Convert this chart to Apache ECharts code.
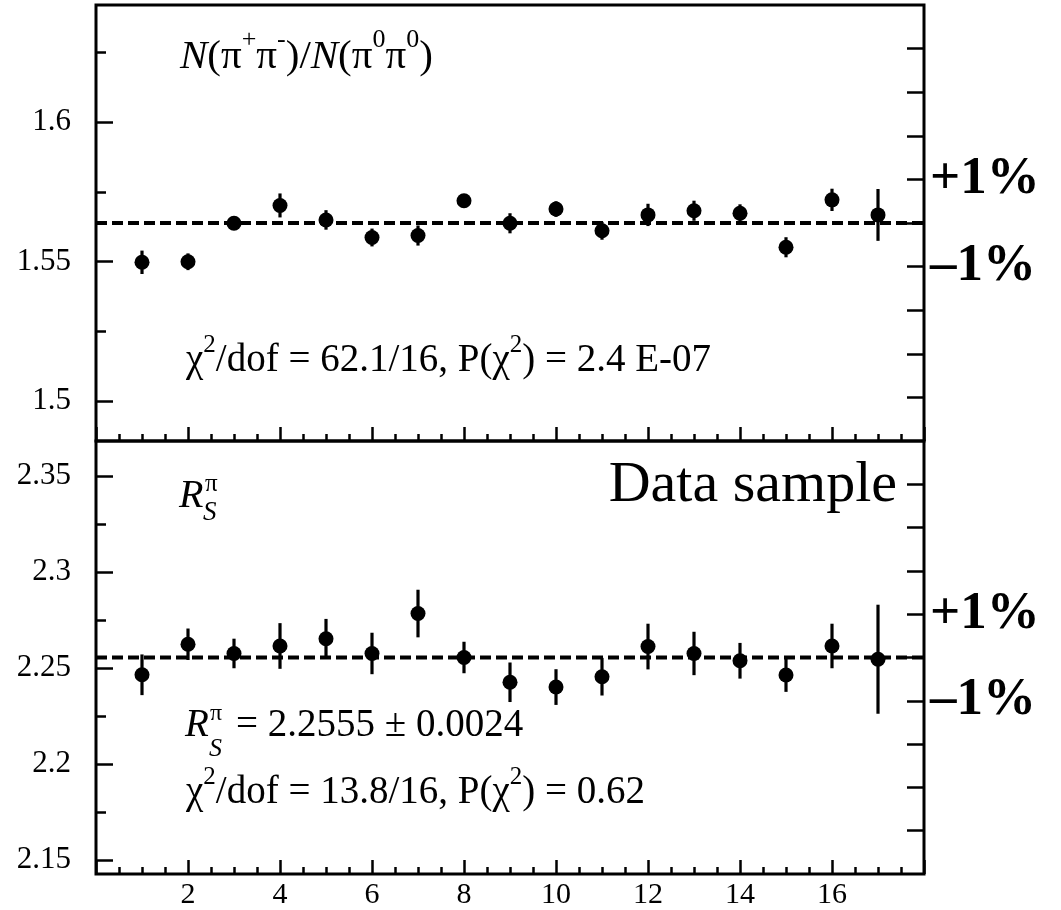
<!DOCTYPE html>
<html>
<head>
<meta charset="utf-8">
<script src="https://cdn.jsdelivr.net/npm/echarts@6/dist/echarts.min.js"></script>
<style>
  html, body { margin: 0; padding: 0; background: #fff; }
  #chart { width: 1061px; height: 910px; }
</style>
</head>
<body>
<div id="chart"></div>
<script>
// ---------------- data ----------------
const samples = [1, 2, 3, 4, 5, 6, 7, 8, 9, 10, 11, 12, 13, 14, 15, 16, 17];

// top panel: N(pi+pi-)/N(pi0pi0)
const ratioVals = [1.5497, 1.5499, 1.5637, 1.5701, 1.5649, 1.5586, 1.5593, 1.5718, 1.5637,
                   1.5688, 1.5610, 1.5667, 1.5682, 1.5673, 1.5551, 1.5721, 1.5667];
const ratioErrs = [0.0042, 0.0030, 0.0020, 0.0043, 0.0035, 0.0032, 0.0036, 0.0020, 0.0036,
                   0.0028, 0.0032, 0.0040, 0.0036, 0.0032, 0.0036, 0.0040, 0.0093];
const ratioMean = 1.5638;
const ratioMajorTicks = [1.5, 1.55, 1.6];
const ratioMinorTicks = [1.525, 1.575, 1.625];

// bottom panel: R_S^pi
const rsVals = [2.2465, 2.2624, 2.2576, 2.2615, 2.2653, 2.2576, 2.2784, 2.2555, 2.2426,
                2.2401, 2.2455, 2.2612, 2.2576, 2.2538, 2.2464, 2.2615, 2.2546];
const rsErrs = [0.0106, 0.0082, 0.0077, 0.0119, 0.0103, 0.0108, 0.0124, 0.0082, 0.0103,
                0.0093, 0.0098, 0.0119, 0.0113, 0.0093, 0.0088, 0.0116, 0.0284];
const rsMean = 2.2555;
const rsMajorTicks = [2.15, 2.2, 2.25, 2.3, 2.35];
const rsMinorTicks = [2.175, 2.225, 2.275, 2.325];

// percent scale on the right (relative to the mean), span +-5 %
const pctSpan = 5;
const pctTicks = [-4, -3, -2, -1, 0, 1, 2, 3, 4];
const pctLabelSteps = [-1, 1];
const pctLabelText = { '-1': '\u20131%', '1': '+1%' };

// x axis
const xMin = 0, xMax = 18, xStep = 2;

// ---------------- chart ----------------
const F = 'Liberation Serif';
const chart = echarts.init(document.getElementById('chart'));

function fmt(v) { return String(+(+v).toFixed(3)); }

const grids = [
  { left: 96, right: 137, top: 5, height: 436, show: true, borderColor: '#000', borderWidth: 3, backgroundColor: 'transparent' },
  { left: 96, right: 137, top: 441, height: 436, show: true, borderColor: '#000', borderWidth: 3, backgroundColor: 'transparent' }
];

function xAxisFor(gi, showLabels) {
  return {
    type: 'value', gridIndex: gi, min: xMin, max: xMax, interval: xStep,
    axisLine: { show: false },
    axisTick: { show: true, inside: true, length: 14, lineStyle: { color: '#000', width: 2.5 } },
    minorTick: { show: true, splitNumber: 4, length: 7, lineStyle: { color: '#000', width: 2.5 } },
    splitLine: { show: false }, minorSplitLine: { show: false },
    axisLabel: {
      show: showLabels, showMinLabel: false, showMaxLabel: false,
      fontFamily: F, fontSize: 30, color: '#000', margin: 6,
      formatter: v => String(v)
    }
  };
}

function yAxesFor(gi, mean, major, minor) {
  const lo = mean * (1 - pctSpan / 100), hi = mean * (1 + pctSpan / 100);
  const pctVals = pctTicks.map(p => mean * (1 + p / 100));
  const pctLabVals = pctLabelSteps.map(p => mean * (1 + p / 100));
  const base = { type: 'value', gridIndex: gi, min: lo, max: hi, splitLine: { show: false }, axisLine: { show: false } };
  return [
    Object.assign({}, base, {
      position: 'left',
      axisTick: { show: true, inside: true, length: 17, customValues: major, lineStyle: { color: '#000', width: 2.5 } },
      axisLabel: { show: true, customValues: major, fontFamily: F, fontSize: 31, color: '#000', margin: 25, formatter: v => fmt(v) }
    }),
    Object.assign({}, base, {
      position: 'left',
      axisTick: { show: true, inside: true, length: 10, customValues: minor, lineStyle: { color: '#000', width: 2.5 } },
      axisLabel: { show: false }
    }),
    Object.assign({}, base, {
      position: 'right',
      axisTick: { show: true, inside: true, length: 17, customValues: pctVals, lineStyle: { color: '#000', width: 2.5 } },
      axisLabel: {
        show: true, customValues: pctLabVals, fontFamily: F, fontSize: 53, fontWeight: 'bold', color: '#000', margin: 6,
        formatter: v => (v > mean ? pctLabelText['1'] : pctLabelText['-1'])
      }
    })
  ];
}

function panelSeries(xi, yi, vals, errs, mean) {
  const pts = samples.map((x, i) => [x, vals[i]]);
  const bars = samples.map((x, i) => [x, vals[i], errs[i]]);
  return [
    {
      type: 'line', xAxisIndex: xi, yAxisIndex: yi, z: 1, silent: true,
      data: [[xMin, mean], [xMax, mean]], symbol: 'none',
      lineStyle: { color: '#000', width: 4, type: [11, 5], opacity: 1 }
    },
    {
      type: 'custom', xAxisIndex: xi, yAxisIndex: yi, z: 2, silent: true,
      data: bars,
      encode: { x: 0, y: 1 },
      renderItem: (params, api) => {
        const x = api.value(0), v = api.value(1), e = api.value(2);
        const p1 = api.coord([x, v - e]);
        const p2 = api.coord([x, v + e]);
        return { type: 'line', shape: { x1: p1[0], y1: p1[1], x2: p2[0], y2: p2[1] }, style: { stroke: '#000', lineWidth: 3.2 } };
      }
    },
    {
      type: 'scatter', xAxisIndex: xi, yAxisIndex: yi, z: 3, silent: true,
      data: pts, symbol: 'circle', symbolSize: 15, itemStyle: { color: '#000', opacity: 1 }
    }
  ];
}

function richLine(text, x, y, size) {
  return {
    type: 'text', x: x, y: y, z: 20, silent: true,
    style: {
      text: text, fontFamily: F, fontSize: size, fill: '#000',
      align: 'left', verticalAlign: 'middle', lineHeight: Math.round(size * 1.45),
      rich: {
        sup: { fontFamily: F, fontSize: Math.round(size * 0.64), lineHeight: Math.round(size * 0.64), verticalAlign: 'top', fill: '#000' },
        it: { fontFamily: F, fontSize: size, fontStyle: 'italic', lineHeight: Math.round(size * 1.45), verticalAlign: 'middle', fill: '#000' }
      }
    }
  };
}
function plain(text, x, y, size, opts) {
  return {
    type: 'text', x: x, y: y, z: 20, silent: true,
    style: Object.assign({ text: text, fontFamily: F, fontSize: size, fill: '#000', align: 'left', verticalAlign: 'middle' }, opts || {})
  };
}

const graphics = [
  richLine('{it|N}(\u03c0{sup|+}\u03c0{sup|-})/{it|N}(\u03c0{sup|0}\u03c0{sup|0})', 180, 57, 41),
  richLine('\u03c7{sup|2}/dof = 62.1/16, P(\u03c7{sup|2}) = 2.4 E-07', 186, 361, 39),
  // R_S^pi label
  plain('R', 179, 496, 40, { fontStyle: 'italic' }),
  plain('\u03c0', 205, 484, 25),
  plain('S', 203, 513, 27, { fontStyle: 'italic' }),
  // R_S^pi = value
  plain('R', 185, 726, 39, { fontStyle: 'italic' }),
  plain('\u03c0', 210, 714, 24),
  plain('S', 209, 749, 26, { fontStyle: 'italic' }),
  plain('= 2.2555 \u00b1 0.0024', 236, 726, 39),
  richLine('\u03c7{sup|2}/dof = 13.8/16, P(\u03c7{sup|2}) = 0.62', 186, 793, 39),
  plain('Data sample', 897, 486, 58, { align: 'right' })
];

const option = {
  backgroundColor: '#fff',
  animation: false,
  grid: grids,
  xAxis: [xAxisFor(0, false), xAxisFor(1, true)],
  yAxis: yAxesFor(0, ratioMean, ratioMajorTicks, ratioMinorTicks)
    .concat(yAxesFor(1, rsMean, rsMajorTicks, rsMinorTicks)),
  series: panelSeries(0, 0, ratioVals, ratioErrs, ratioMean)
    .concat(panelSeries(1, 3, rsVals, rsErrs, rsMean)),
  graphic: graphics
};
chart.setOption(option);
</script>
</body>
</html>
